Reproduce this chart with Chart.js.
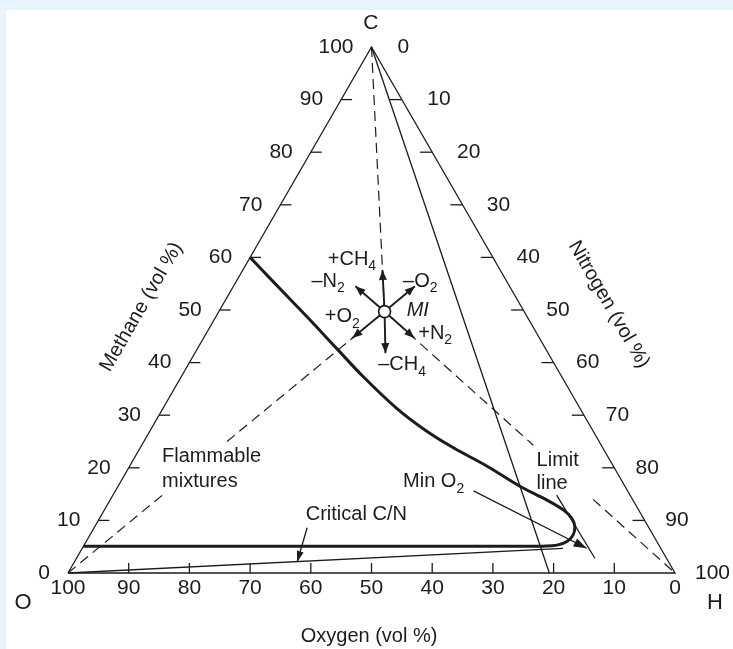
<!DOCTYPE html>
<html>
<head>
<meta charset="utf-8">
<script src="https://cdn.jsdelivr.net/npm/chart.js@4.4.0/dist/chart.umd.min.js"></script>
<style>
  html, body { margin:0; padding:0; background:#e7f3fd; width:733px; height:649px; overflow:hidden; }
  #paper { position:absolute; left:6px; top:10px; width:727px; height:639px; background:#ffffff; }
  #c { position:absolute; left:0; top:0; }
</style>
</head>
<body>
<div id="paper"></div>
<canvas id="c" width="733" height="649"></canvas>
<script>
// ---------------- DATA (ternary: methane %, nitrogen %; oxygen = 100 - both) ----------------
const tickValues = [10, 20, 30, 40, 50, 60, 70, 80, 90];
const tickLabels = ['0', '10', '20', '30', '40', '50', '60', '70', '80', '90', '100'];

// Flammability envelope (thick curve)
const envelopeMethane  = [60, 55.4, 48.8, 42.7, 37.3, 31.3, 27.2, 23.8, 20.3, 16.5, 13.9, 12.0, 10.4, 8.8, 7.2, 6.0, 5.3, 5.1, 5.1, 5.1];
const envelopeNitrogen = [0, 6.1, 14.9, 22.9, 30.0, 38.5, 45.2, 51.6, 58.9, 66.2, 71.9, 75.6, 77.8, 79.1, 79.6, 79.2, 77.9, 75.7, 73.6, 0];

// Methane-air line (C vertex to air on the oxygen axis)
const airLineMethane  = [100, 0];
const airLineNitrogen = [0, 79.3];

// Thin line from O vertex (critical C/N)
const criticalLineMethane  = [0, 4.7];
const criticalLineNitrogen = [0, 79.2];

// Limit line
const limitLineMethane  = [14.8, 2.8];
const limitLineNitrogen = [73.1, 85.4];

// Min O2 pointer arrow
const minO2ArrowMethane  = [15.6, 4.7];
const minO2ArrowNitrogen = [59.0, 83.1];

// Critical C/N pointer arrow
const critArrowMethane  = [8.6, 2.1];
const critArrowNitrogen = [35.1, 36.7];

// Mixture point MI
const miMethane = 49.7;
const miNitrogen = 27.3;

// Dashed construction lines through MI
const dashCMethane   = [100, 49.7];
const dashCNitrogen  = [0, 27.3];
const dashO1Methane  = [0, 14.9];
const dashO1Nitrogen = [0, 8.2];
const dashO2Methane  = [25.0, 49.7];
const dashO2Nitrogen = [13.7, 27.3];
const dashH1Methane  = [49.7, 24.3];
const dashH1Nitrogen = [27.3, 64.5];
const dashH2Methane  = [14.0, 0];
const dashH2Nitrogen = [79.5, 100];

// Arrows around MI
const miArrowNames    = ['+CH4', '-CH4', '-O2', '+O2', '+N2', '-N2'];
const miArrowMethane  = [57.6, 41.8, 54.5, 44.7, 44.7, 54.5];
const miArrowNitrogen = [23.0, 31.4, 29.9, 24.5, 34.7, 20.1];

// ---------------- helpers ----------------
const SQ = Math.sqrt(3) / 2;
function tern(m, n) { return { x: n + m / 2, y: m * SQ }; }
function pts(mArr, nArr) { return mArr.map((m, i) => tern(m, nArr[i])); }

const INK = '#1c1c1c';
const datasets = [];

// MI circle on top (first dataset drawn last)
datasets.push({
  data: [tern(miMethane, miNitrogen)],
  showLine: false, pointRadius: 6, pointBackgroundColor: '#ffffff',
  pointBorderColor: INK, pointBorderWidth: 1.6, pointHoverRadius: 6
});

function line(data, width, opts) {
  datasets.push(Object.assign({
    data: data, showLine: true, pointRadius: 0, pointHoverRadius: 0,
    borderColor: INK, backgroundColor: INK, borderWidth: width, fill: false, clip: false, tension: 0
  }, opts || {}));
}

// triangle
line(pts([0, 0, 100, 0], [0, 100, 0, 0]), 1.3);

// ticks (length is a drawing style in chart units)
tickValues.forEach(v => {
  const l = tern(v, 0);          // methane axis (left)
  line([l, { x: l.x + 1.8, y: l.y }], 1.3);
  const r = tern(100 - v, v);    // nitrogen axis (right)
  line([r, { x: r.x - 2.0, y: r.y }], 1.3);
  const b = tern(0, 100 - v);    // oxygen axis (bottom)
  line([b, { x: b.x, y: b.y + 1.65 }], 1.3);
});

// dashed construction lines
const dash = { borderDash: [10, 6] };
line(pts(dashCMethane, dashCNitrogen), 1.2, dash);
line(pts(dashO1Methane, dashO1Nitrogen), 1.2, dash);
line(pts(dashO2Methane, dashO2Nitrogen), 1.2, dash);
line(pts(dashH1Methane, dashH1Nitrogen), 1.2, dash);
line(pts(dashH2Methane, dashH2Nitrogen), 1.2, dash);

// thin solid lines
line(pts(airLineMethane, airLineNitrogen), 1.3);
line(pts(criticalLineMethane, criticalLineNitrogen), 1.3);
line(pts(limitLineMethane, limitLineNitrogen), 1.3);
line(pts(minO2ArrowMethane, minO2ArrowNitrogen), 1.3, { arrowHead: { len: 13, width: 9 } });
line(pts(critArrowMethane, critArrowNitrogen), 1.3, { arrowHead: { len: 11, width: 7 } });

// flammability envelope
line(pts(envelopeMethane, envelopeNitrogen), 3, { tension: 0.35 });

// arrows from MI
miArrowNames.forEach((nm, i) => {
  line([tern(miMethane, miNitrogen), tern(miArrowMethane[i], miArrowNitrogen[i])], 1.9,
       { arrowHead: { len: 10, width: 8 } });
});

// ---------------- text annotations (positions in chart units) ----------------
const FONT = '"Liberation Sans", Arial, Helvetica, sans-serif';
const annotations = [
  { t: 'C', x: 49.9, y: 90.6, align: 'center', size: 21 },
  { t: 'O', x: -7.4, y: -5.0, align: 'center', size: 22 },
  { t: 'H', x: 106.6, y: -4.9, align: 'center', size: 22 },
  { t: 'Oxygen (vol %)', x: 49.6, y: -10.5, align: 'center', size: 20 },
  { t: 'Methane (vol %)', x: 12.1, y: 43.8, align: 'center', size: 20, rot: -60 },
  { t: 'Nitrogen (vol %)', x: 89.1, y: 44.2, align: 'center', size: 20, rot: 60 },
  { t: 'Flammable', x: 15.5, y: 19.2, align: 'left', size: 20 },
  { t: 'mixtures', x: 15.5, y: 15.0, align: 'left', size: 20 },
  { t: 'Critical C/N', x: 47.5, y: 9.6, align: 'center', size: 20 },
  { t: 'Min O', sub: '2', x: 55.2, y: 15.0, align: 'left', size: 20 },
  { t: 'Limit', x: 77.2, y: 18.6, align: 'left', size: 20 },
  { t: 'line', x: 77.2, y: 14.8, align: 'left', size: 20 },
  { t: 'MI', x: 55.8, y: 43.3, align: 'left', size: 20, italic: true },
  { t: '+CH', sub: '4', x: 42.8, y: 51.6, align: 'left', size: 20 },
  { t: '\u2013N', sub: '2', x: 40.1, y: 48.0, align: 'left', size: 20 },
  { t: '\u2013O', sub: '2', x: 55.2, y: 48.0, align: 'left', size: 20 },
  { t: '+O', sub: '2', x: 42.3, y: 42.2, align: 'left', size: 20 },
  { t: '+N', sub: '2', x: 57.7, y: 39.5, align: 'left', size: 20 },
  { t: '\u2013CH', sub: '4', x: 51.1, y: 34.3, align: 'left', size: 20 }
];

const textPlugin = {
  id: 'ternaryText',
  afterDraw(chart) {
    const ctx = chart.ctx, xs = chart.scales.x, ys = chart.scales.y;
    const P = (p) => ({ x: xs.getPixelForValue(p.x), y: ys.getPixelForValue(p.y) });
    ctx.save();
    ctx.fillStyle = INK;
    ctx.textBaseline = 'middle';
    // tick labels
    ctx.font = '21px ' + FONT;
    tickLabels.forEach((lab, i) => {
      const v = i * 10;
      const l = P(tern(v, 0));
      ctx.textAlign = 'right'; ctx.fillText(lab, l.x - 18, l.y);
      const r = P(tern(100 - v, v));
      ctx.textAlign = 'left'; ctx.fillText(lab, r.x + 26 - 6 * v / 100, r.y);
      const b = P(tern(0, 100 - v));
      ctx.textAlign = 'center'; ctx.fillText(lab, b.x, b.y + 15);
    });
    // annotations
    annotations.forEach(a => {
      const p = P(a);
      ctx.save();
      ctx.translate(p.x, p.y);
      if (a.rot) ctx.rotate(a.rot * Math.PI / 180);
      ctx.font = (a.italic ? 'italic ' : '') + a.size + 'px ' + FONT;
      let w = ctx.measureText(a.t).width;
      let sw = 0;
      if (a.sub) { ctx.font = '14px ' + FONT; sw = ctx.measureText(a.sub).width; }
      let x0 = a.align === 'center' ? -(w + sw) / 2 : 0;
      ctx.textAlign = 'left';
      ctx.font = (a.italic ? 'italic ' : '') + a.size + 'px ' + FONT;
      ctx.fillText(a.t, x0, 0);
      if (a.sub) { ctx.font = '14px ' + FONT; ctx.fillText(a.sub, x0 + w, 7); }
      ctx.restore();
    });
    ctx.restore();
  }
};

const arrowPlugin = {
  id: 'arrowHeads',
  afterDatasetsDraw(chart) {
    const ctx = chart.ctx;
    chart.data.datasets.forEach((ds, i) => {
      if (!ds.arrowHead) return;
      const el = chart.getDatasetMeta(i).data;
      const a = el[el.length - 2], b = el[el.length - 1];
      const ang = Math.atan2(b.y - a.y, b.x - a.x);
      const L = ds.arrowHead.len, W = ds.arrowHead.width / 2;
      const bx = b.x - L * Math.cos(ang), by = b.y - L * Math.sin(ang);
      ctx.save();
      ctx.fillStyle = INK;
      ctx.beginPath();
      ctx.moveTo(b.x, b.y);
      ctx.lineTo(bx + W * Math.sin(ang), by - W * Math.cos(ang));
      ctx.lineTo(bx - W * Math.sin(ang), by + W * Math.cos(ang));
      ctx.closePath();
      ctx.fill();
      ctx.restore();
    });
  }
};

new Chart(document.getElementById('c'), {
  type: 'scatter',
  data: { datasets: datasets },
  options: {
    responsive: false,
    animation: false,
    events: [],
    layout: { padding: { left: 68, right: 58, top: 47, bottom: 76 } },
    plugins: { legend: { display: false }, tooltip: { enabled: false } },
    scales: {
      x: { type: 'linear', min: 0, max: 100, display: false },
      y: { type: 'linear', min: 0, max: 100 * SQ, display: false }
    }
  },
  plugins: [arrowPlugin, textPlugin]
});
</script>
</body>
</html>
